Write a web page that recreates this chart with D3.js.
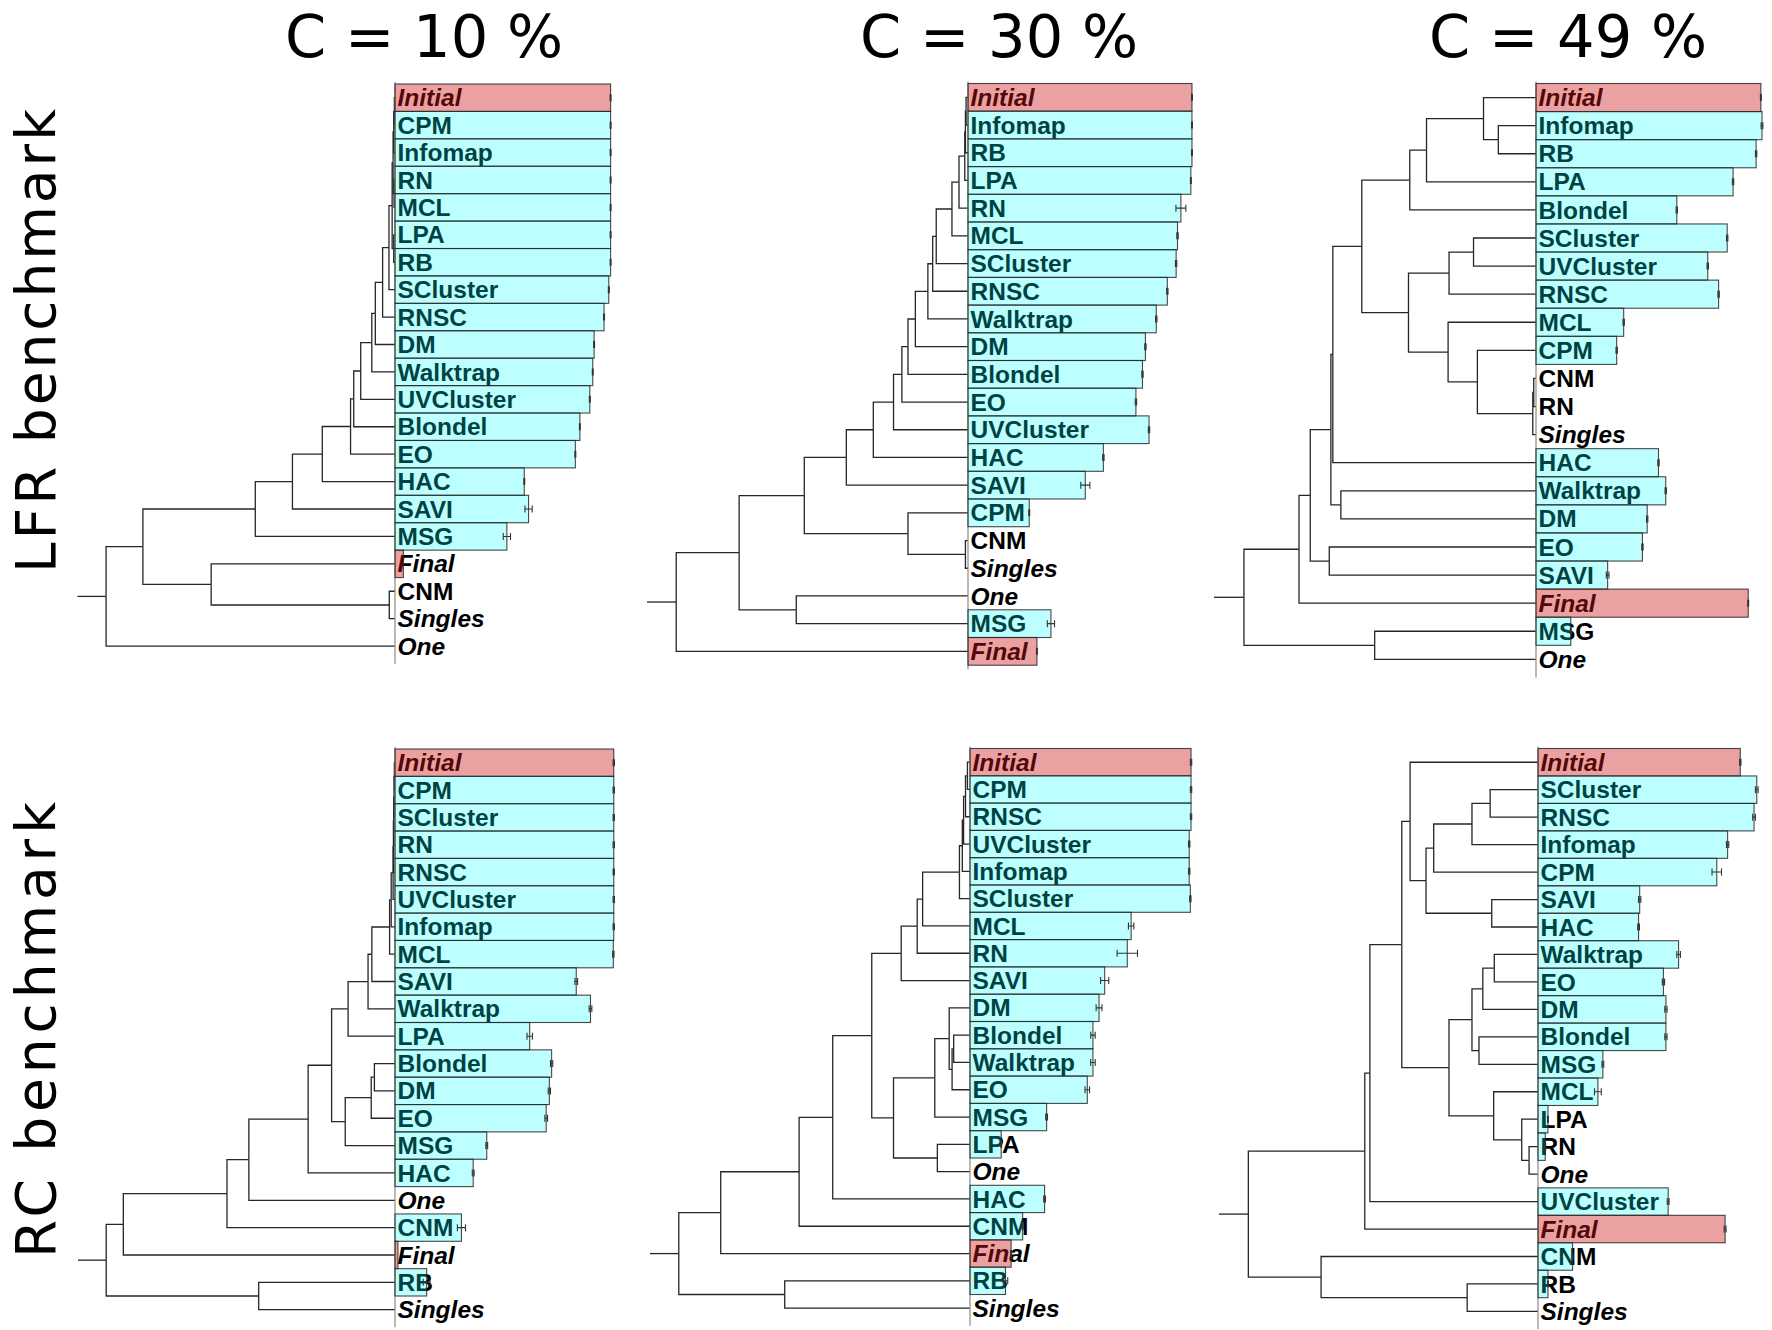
<!DOCTYPE html>
<html><head><meta charset="utf-8">
<script src="https://cdn.jsdelivr.net/npm/d3@7"></script>
<style>html,body{margin:0;padding:0;background:#fff;} svg{display:block}</style>
</head><body>
<svg id="chart" width="1772" height="1330"></svg>
<script>
// ---------------- DATA ----------------
const columnTitles = ["C = 10 %", "C = 30 %", "C = 49 %"];
const rowTitles = ["LFR benchmark", "RC benchmark"];
const italicNames = ["Initial", "Final", "Singles", "One"];
const pinkNames = ["Initial", "Final"];

// LFR, C = 10 %
const rowsLFR10 = ["Initial","CPM","Infomap","RN","MCL","LPA","RB","SCluster","RNSC","DM","Walktrap","UVCluster","Blondel","EO","HAC","SAVI","MSG","Final","CNM","Singles","One"];
const valsLFR10 = [0.954,0.954,0.954,0.954,0.954,0.954,0.954,0.946,0.925,0.881,0.875,0.862,0.818,0.798,0.572,0.591,0.495,0.037,0,0,0];
const errLFR10  = [0.002,0.002,0.002,0.002,0.002,0.002,0.002,0.002,0.002,0.002,0.002,0.002,0.002,0.002,0.002,0.016,0.016,0,0,0,0];
const treeLFR10 = [0.91,
  [0.794,
    [0.44,[0.323,[0.229,[0.14,[0.13,[0.108,[0.073,[0.062,[0.039,[0.019,
      [0.009,[0.006,[0.004,[0.002,"Initial","CPM"],"Infomap"],[0.003,"RN","MCL"]],[0.004,"LPA","RB"]],
      "SCluster"],"RNSC"],"DM"],"Walktrap"],"UVCluster"],"Blondel"],"EO"],"HAC"],"SAVI"],"MSG"],
    [0.579,"Final",[0.018,"CNM","Singles"]]],
  "One"];

// LFR, C = 30 %
const rowsLFR30 = ["Initial","Infomap","RB","LPA","RN","MCL","SCluster","RNSC","Walktrap","DM","Blondel","EO","UVCluster","HAC","SAVI","CPM","CNM","Singles","One","MSG","Final"];
const valsLFR30 = [0.991,0.991,0.991,0.986,0.942,0.927,0.921,0.882,0.833,0.785,0.772,0.743,0.801,0.599,0.519,0.271,0,0,0,0.367,0.305];
const errLFR30  = [0.002,0.002,0.002,0.002,0.022,0.003,0.003,0.003,0.003,0.003,0.003,0.003,0.003,0.003,0.02,0.002,0,0,0,0.016,0.002];
const treeLFR30 = [0.909,
  [0.713,
    [0.51,
      [0.379,[0.295,[0.232,[0.206,[0.187,[0.164,[0.125,[0.11,[0.099,[0.05,[0.028,
        [0.01,[0.008,[0.006,"Initial","Infomap"],"RB"],"LPA"],
        "RN"],"MCL"],"SCluster"],"RNSC"],"Walktrap"],"DM"],"Blondel"],"EO"],"UVCluster"],"HAC"],"SAVI"],
      [0.187,"CPM",[0.008,"CNM","Singles"]]],
    [0.535,"One","MSG"]],
  "Final"];

// LFR, C = 49 %
const rowsLFR49 = ["Initial","Infomap","RB","LPA","Blondel","SCluster","UVCluster","RNSC","MCL","CPM","CNM","RN","Singles","HAC","Walktrap","DM","EO","SAVI","Final","MSG","One"];
const valsLFR49 = [0.995,1.0,0.974,0.872,0.623,0.846,0.760,0.808,0.388,0.357,0,0,0,0.542,0.574,0.492,0.471,0.317,0.939,0.154,0];
const errLFR49  = [0.002,0.004,0.003,0.003,0.003,0.003,0.003,0.003,0.003,0.003,0,0,0,0.003,0.003,0.003,0.003,0.006,0.002,0.002,0];
const treeLFR49 = [0.907,
  [0.736,
    [0.701,
      [0.637,
        [0.631,
          [0.541,
            [0.392,[0.34,[0.163,"Initial",[0.117,"Infomap","RB"]],"LPA"],"Blondel"],
            [0.396,
              [0.27,[0.194,"SCluster","UVCluster"],"RNSC"],
              [0.273,"MCL",[0.182,"CPM",[0.01,[0.007,"CNM","RN"],"Singles"]]]]],
          "HAC"],
        [0.606,"Walktrap","DM"]],
      [0.642,"EO","SAVI"]],
    "Final"],
  [0.501,"MSG","One"]];

// RC, C = 10 %
const rowsRC10 = ["Initial","CPM","SCluster","RN","RNSC","UVCluster","Infomap","MCL","SAVI","Walktrap","LPA","Blondel","DM","EO","MSG","HAC","One","CNM","Final","RB","Singles"];
const valsRC10 = [0.968,0.968,0.968,0.968,0.968,0.968,0.968,0.966,0.802,0.865,0.596,0.693,0.683,0.669,0.406,0.346,0,0.294,0.013,0.14,0];
const errRC10  = [0.003,0.003,0.003,0.003,0.003,0.003,0.003,0.003,0.006,0.006,0.012,0.005,0.005,0.006,0.004,0.004,0,0.018,0,0.015,0];
const treeRC10 = [0.911,
  [0.857,
    [0.53,
      [0.461,
        [0.274,
          [0.2,
            [0.148,
              [0.085,[0.073,
                [0.017,[0.012,[0.006,[0.005,[0.004,[0.003,[0.002,"Initial","CPM"],"SCluster"],"RN"],"RNSC"],"UVCluster"],"Infomap"],"MCL"],
                "SAVI"],"Walktrap"],
              "LPA"],
            [0.157,[0.075,[0.065,"Blondel","DM"],"EO"],"MSG"]],
          "HAC"],
        "One"],
      "CNM"],
    "Final"],
  [0.43,"RB","Singles"]];

// RC, C = 30 %
const rowsRC30 = ["Initial","CPM","RNSC","UVCluster","Infomap","SCluster","MCL","RN","SAVI","DM","Blondel","Walktrap","EO","MSG","LPA","One","HAC","CNM","Final","RB","Singles"];
const valsRC30 = [0.978,0.978,0.978,0.970,0.970,0.975,0.713,0.696,0.596,0.571,0.544,0.544,0.519,0.339,0.138,0,0.330,0.233,0.182,0.157,0];
const errRC30  = [0.003,0.003,0.003,0.003,0.003,0.003,0.012,0.045,0.018,0.013,0.01,0.01,0.01,0.004,0.002,0,0.004,0.003,0.002,0.01,0];
const treeRC30 = [0.91,
  [0.779,
    [0.534,
      [0.429,
        [0.307,
          [0.215,[0.165,[0.148,
            [0.033,[0.024,[0.02,[0.014,[0.008,"Initial","CPM"],"RNSC"],"UVCluster"],"Infomap"],"SCluster"],
            "MCL"],"RN"],"SAVI"],
          [0.239,
            [0.11,[0.065,"DM",[0.056,[0.051,"Blondel","Walktrap"],"EO"]],"MSG"],
            [0.102,"LPA","One"]]],
        "HAC"],
      "CNM"],
    "Final"],
  [0.579,"RB","Singles"]];

// RC, C = 49 %
const rowsRC49 = ["Initial","SCluster","RNSC","Infomap","CPM","SAVI","HAC","Walktrap","EO","DM","Blondel","MSG","MCL","LPA","RN","One","UVCluster","Final","CNM","RB","Singles"];
const valsRC49 = [0.895,0.968,0.956,0.839,0.791,0.450,0.445,0.622,0.555,0.566,0.566,0.287,0.265,0.044,0.032,0,0.576,0.828,0.153,0.044,0];
const errRC49  = [0.003,0.006,0.006,0.005,0.021,0.005,0.004,0.008,0.005,0.005,0.005,0.004,0.015,0.002,0.002,0,0.004,0.004,0.002,0.002,0];
const treeRC49 = [0.908,
  [0.543,
    [0.527,
      [0.427,
        [0.401,"Initial",
          [0.351,[0.327,[0.207,[0.15,"SCluster","RNSC"],"Infomap"],"CPM"],[0.145,"SAVI","HAC"]]],
        [0.279,
          [0.207,[0.173,[0.137,"Walktrap","EO"],"DM"],[0.185,"Blondel","MSG"]],
          [0.139,"MCL",[0.051,"LPA",[0.028,"RN","One"]]]]],
      "UVCluster"],
    "Final"],
  [0.68,"CNM",[0.222,"RB","Singles"]]];

// ---------------- LAYOUT ----------------
const panelData = [
  {rows: rowsLFR10, vals: valsLFR10, errs: errLFR10, tree: treeLFR10},
  {rows: rowsLFR30, vals: valsLFR30, errs: errLFR30, tree: treeLFR30},
  {rows: rowsLFR49, vals: valsLFR49, errs: errLFR49, tree: treeLFR49},
  {rows: rowsRC10,  vals: valsRC10,  errs: errRC10,  tree: treeRC10},
  {rows: rowsRC30,  vals: valsRC30,  errs: errRC30,  tree: treeRC30},
  {rows: rowsRC49,  vals: valsRC49,  errs: errRC49,  tree: treeRC49}
];
const panelLayout = [
  {barLeft: 395,  stubX: 77.5, top: 84,    rowH: 27.42},
  {barLeft: 968,  stubX: 647,  top: 83.5,  rowH: 27.7},
  {barLeft: 1536, stubX: 1214, top: 83.5,  rowH: 28.09},
  {barLeft: 395,  stubX: 78,   top: 749,   rowH: 27.35},
  {barLeft: 970,  stubX: 650,  top: 748.5, rowH: 27.3},
  {barLeft: 1538, stubX: 1219, top: 748.5, rowH: 27.46}
];
const BAR_SPAN = 226;
const titleX = [424, 999, 1568];
const titleY = 57;
const rowTitleLayout = [{x: 55, y: 341, len: 464}, {x: 55, y: 1030, len: 456}];

const svg = d3.select("#chart");

// column titles
svg.selectAll("text.ctitle").data(columnTitles).enter().append("text")
  .attr("class","ctitle")
  .attr("x", (d,i) => titleX[i]).attr("y", titleY)
  .attr("text-anchor","middle")
  .attr("font-family","'DejaVu Sans', sans-serif")
  .attr("font-size", 59)
  .attr("fill","#000")
  .text(d => d);

// row titles
svg.selectAll("text.rtitle").data(rowTitles).enter().append("text")
  .attr("class","rtitle")
  .attr("transform",(d,i) => `translate(${rowTitleLayout[i].x},${rowTitleLayout[i].y}) rotate(-90)`)
  .attr("text-anchor","middle")
  .attr("font-family","'DejaVu Sans', sans-serif")
  .attr("font-size", 55)
  .attr("textLength",(d,i) => rowTitleLayout[i].len)
  .attr("lengthAdjust","spacing")
  .attr("fill","#000")
  .text(d => d);

panelData.forEach((pd, pi) => {
  const L = panelLayout[pi];
  const g = svg.append("g");
  const yBand = d3.scaleBand().domain(pd.rows).range([L.top, L.top + pd.rows.length * L.rowH]).padding(0);
  const xVal = d3.scaleLinear().domain([0, 1]).range([L.barLeft, L.barLeft + BAR_SPAN]);
  const xH = d3.scaleLinear().domain([0, 1]).range([L.barLeft, L.stubX]);
  const bw = yBand.bandwidth();

  // dendrogram
  const root = d3.hierarchy(pd.tree, d => Array.isArray(d) ? d.slice(1) : null);
  root.eachAfter(n => {
    n.h = n.children ? n.data[0] : 0;
    n.yy = n.children ? d3.mean(n.children, c => c.yy) : yBand(n.data) + bw / 2;
  });
  const segs = [];
  root.each(n => {
    if (n.children) n.children.forEach(c => {
      segs.push(`M${xH(c.h)},${c.yy}H${xH(n.h)}V${n.yy}`);
    });
  });
  segs.push(`M${xH(root.h)},${root.yy}H${xH(1)}`);
  g.append("g").selectAll("path").data(segs).enter().append("path")
    .attr("d", d => d).attr("fill","none").attr("stroke","#262626").attr("stroke-width",1.3);

  // axis line at bar origin
  g.append("line")
    .attr("x1", xVal(0)).attr("x2", xVal(0))
    .attr("y1", L.top - 2).attr("y2", L.top + pd.rows.length * L.rowH + 4)
    .attr("stroke","#8a8a8a").attr("stroke-width",1.2);

  // labels (under the translucent bars)
  g.append("g").selectAll("text").data(pd.rows).enter().append("text")
    .attr("x", xVal(0) + 2.5)
    .attr("y", d => yBand(d) + bw / 2 + 8.6)
    .attr("font-family","'Liberation Sans', Arial, sans-serif")
    .attr("font-weight","bold")
    .attr("font-style", d => italicNames.includes(d) ? "italic" : "normal")
    .attr("font-size", 24.5)
    .attr("fill","#000")
    .text(d => d);

  // bars
  const items = pd.rows.map((r, i) => ({name: r, v: pd.vals[i], e: pd.errs[i]}));
  g.append("g").selectAll("rect").data(items.filter(d => d.v > 0)).enter().append("rect")
    .attr("x", xVal(0))
    .attr("y", d => yBand(d.name))
    .attr("width", d => xVal(d.v) - xVal(0))
    .attr("height", bw)
    .attr("fill", d => pinkNames.includes(d.name) ? "rgba(205,20,20,0.4)" : "rgba(0,255,255,0.26)")
    .attr("stroke","rgba(40,40,40,0.85)")
    .attr("stroke-width",1.1);

  // error bars
  const eg = g.append("g").attr("stroke","#333").attr("stroke-width",1.1);
  items.filter(d => d.v > 0 && d.e > 0).forEach(d => {
    const cy = yBand(d.name) + bw / 2;
    const x0 = xVal(d.v - d.e), x1 = xVal(d.v + d.e);
    eg.append("path").attr("fill","none")
      .attr("d", `M${x0},${cy - 3.5}V${cy + 3.5}M${x0},${cy}H${x1}M${x1},${cy - 3.5}V${cy + 3.5}`);
  });
});
</script></body></html>
